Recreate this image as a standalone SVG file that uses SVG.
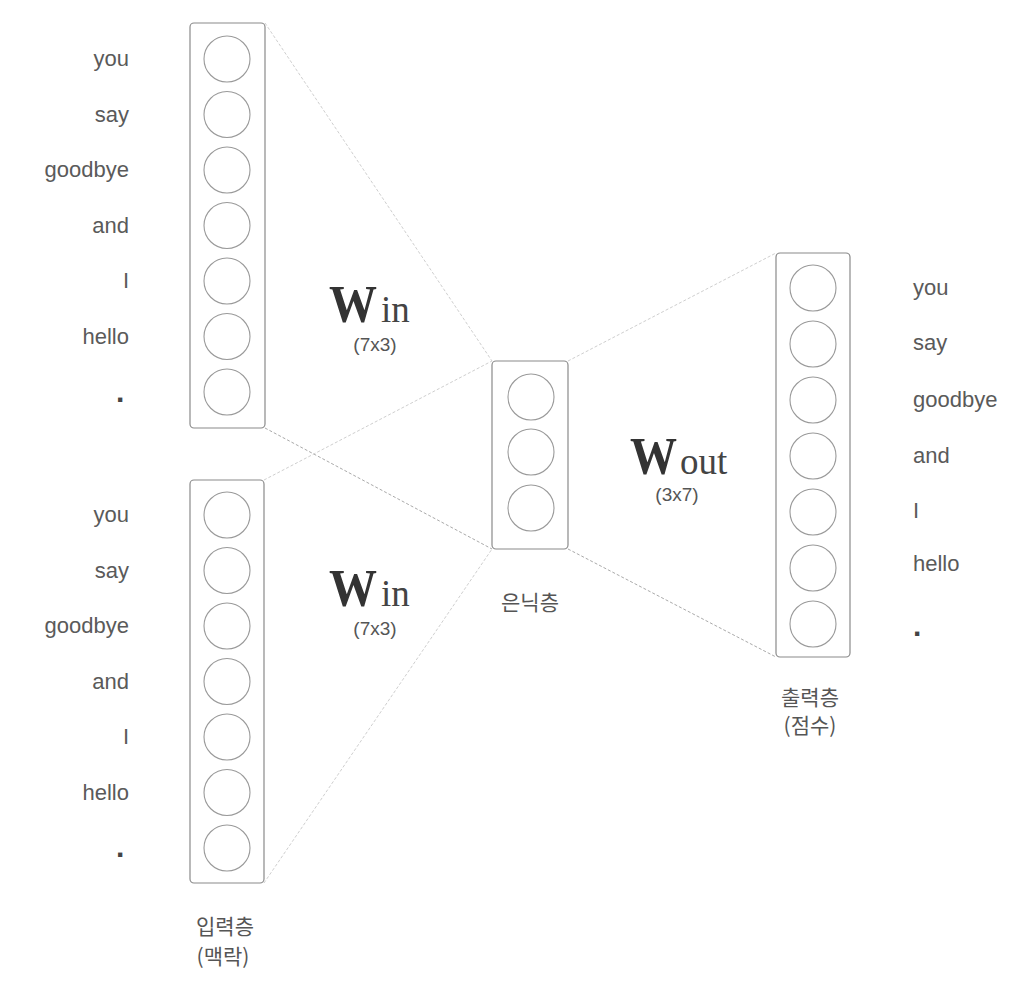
<svg xmlns="http://www.w3.org/2000/svg" width="1024" height="995" viewBox="0 0 1024 995">
<style>
.box{fill:none;stroke:#8a8a8a;stroke-width:1.2}
.neu{fill:#fff;stroke:#9a9a9a;stroke-width:1.1}
.w{font-family:"Liberation Sans",Arial,sans-serif;font-size:22px;fill:#5a5a5a}
.dot{font-family:"Liberation Sans",Arial,sans-serif;font-size:30px;font-weight:bold;fill:#444}
.lab{font-family:"Liberation Sans",Arial,sans-serif;font-size:19px;fill:#555;text-anchor:middle}
.kr{font-family:"Noto Sans CJK KR","Liberation Sans",sans-serif;font-size:21px;fill:#555;text-anchor:middle}
.W{font-family:"Liberation Serif","Times New Roman",serif;font-weight:bold;font-size:52px;fill:#333}
.sub{font-family:"Liberation Serif","Times New Roman",serif;font-size:37px;fill:#444}
.c1{stroke:#cfcfcf;stroke-width:1;stroke-dasharray:3 2;fill:none}
.c2{stroke:#aaa;stroke-width:1;stroke-dasharray:3 2;fill:none}
</style>
<rect width="1024" height="995" fill="#fff"/>
<g id="connectors">
<line class="c1" x1="265" y1="23" x2="492" y2="361"/>
<line class="c2" x1="265" y1="428" x2="492" y2="549"/>
<line class="c1" x1="264" y1="480" x2="492" y2="361"/>
<line class="c1" x1="264" y1="883" x2="492" y2="549"/>
<line class="c1" x1="568" y1="361" x2="776" y2="253"/>
<line class="c2" x1="568" y1="549" x2="776" y2="657"/>
</g>
<g id="input-top">
<rect class="box" x="190" y="23" width="75" height="405" rx="4"/>
<circle class="neu" cx="227" cy="59" r="23"/>
<circle class="neu" cx="227" cy="114.5" r="23"/>
<circle class="neu" cx="227" cy="170" r="23"/>
<circle class="neu" cx="227" cy="225.5" r="23"/>
<circle class="neu" cx="227" cy="281" r="23"/>
<circle class="neu" cx="227" cy="336.5" r="23"/>
<circle class="neu" cx="227" cy="392" r="23"/>
<g class="w" text-anchor="end">
<text x="129" y="66">you</text>
<text x="129" y="121.5">say</text>
<text x="129" y="177">goodbye</text>
<text x="129" y="232.5">and</text>
<text x="129" y="288">I</text>
<text x="129" y="343.5">hello</text>
</g>
<text class="dot" x="116" y="402">.</text>
</g>
<g id="input-bottom">
<rect class="box" x="190" y="480" width="74" height="403" rx="4"/>
<circle class="neu" cx="227" cy="515" r="23"/>
<circle class="neu" cx="227" cy="570.5" r="23"/>
<circle class="neu" cx="227" cy="626" r="23"/>
<circle class="neu" cx="227" cy="681.5" r="23"/>
<circle class="neu" cx="227" cy="737" r="23"/>
<circle class="neu" cx="227" cy="792.5" r="23"/>
<circle class="neu" cx="227" cy="848" r="23"/>
<g class="w" text-anchor="end">
<text x="129" y="522">you</text>
<text x="129" y="577.5">say</text>
<text x="129" y="633">goodbye</text>
<text x="129" y="688.5">and</text>
<text x="129" y="744">I</text>
<text x="129" y="799.5">hello</text>
</g>
<text class="dot" x="116" y="857">.</text>
<text class="kr" x="225" y="934">입력층</text>
<text class="kr" x="223" y="964">(맥락)</text>
</g>
<g id="hidden">
<rect class="box" x="492" y="361" width="76" height="188" rx="4"/>
<circle class="neu" cx="531" cy="397" r="23"/>
<circle class="neu" cx="531" cy="452" r="23"/>
<circle class="neu" cx="531" cy="508" r="23"/>
<text class="kr" x="530" y="610">은닉층</text>
</g>
<g id="output">
<rect class="box" x="776" y="253" width="74" height="404" rx="4"/>
<circle class="neu" cx="813" cy="288" r="23"/>
<circle class="neu" cx="813" cy="344" r="23"/>
<circle class="neu" cx="813" cy="400" r="23"/>
<circle class="neu" cx="813" cy="456" r="23"/>
<circle class="neu" cx="813" cy="512" r="23"/>
<circle class="neu" cx="813" cy="568" r="23"/>
<circle class="neu" cx="813" cy="624" r="23"/>
<g class="w">
<text x="913" y="295">you</text>
<text x="913" y="350">say</text>
<text x="913" y="407">goodbye</text>
<text x="913" y="463">and</text>
<text x="913" y="518">I</text>
<text x="913" y="571">hello</text>
</g>
<text class="dot" x="913" y="636">.</text>
<text class="kr" x="810" y="705">출력층</text>
<text class="kr" x="810" y="733">(점수)</text>
</g>
<g id="label-win-top">
<text class="W" x="329" y="322" textLength="48" lengthAdjust="spacingAndGlyphs">W</text>
<text class="sub" x="381" y="322">in</text>
<text class="lab" x="375" y="351">(7x3)</text>
</g>
<g id="label-win-bottom">
<text class="W" x="329" y="606" textLength="48" lengthAdjust="spacingAndGlyphs">W</text>
<text class="sub" x="381" y="606">in</text>
<text class="lab" x="375" y="635">(7x3)</text>
</g>
<g id="label-wout">
<text class="W" x="630" y="474" textLength="47" lengthAdjust="spacingAndGlyphs">W</text>
<text class="sub" x="680" y="474">out</text>
<text class="lab" x="677" y="501">(3x7)</text>
</g>
</svg>
